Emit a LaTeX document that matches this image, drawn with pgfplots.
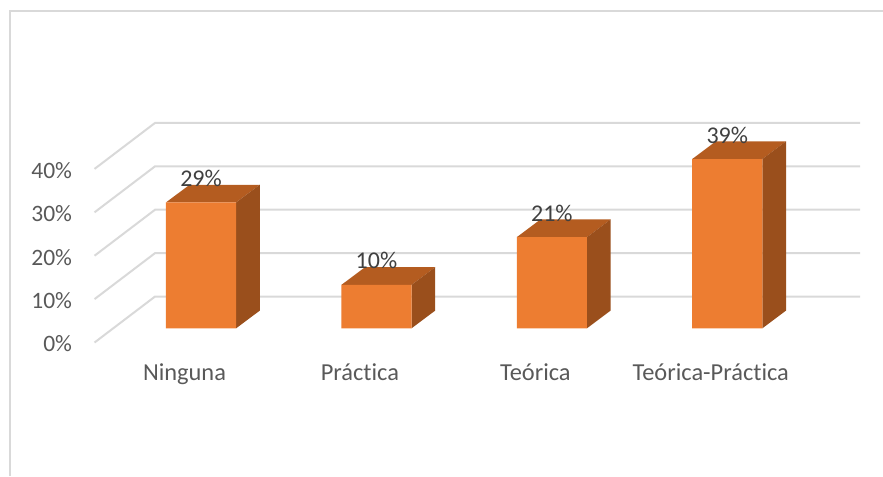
\documentclass[border=0pt]{standalone}
\usepackage{pgfplots}
\pgfplotsset{compat=1.18}
\usepackage{fontspec}
\setmainfont[Ligatures=NoCommon]{Carlito}

\definecolor{front}{HTML}{ED7D31}
\definecolor{sidef}{HTML}{9A4F1C}
\definecolor{topf}{HTML}{B45C20}
\definecolor{gridc}{HTML}{D9D9D9}
\definecolor{lab}{HTML}{595959}
\definecolor{val}{HTML}{404040}

% depth of a bar: dx 0.135, dy 4.08 / half width 0.2
\pgfplotstableread{
x y
0 29
1 10
2 21
3 39
}\shares

\begin{document}
\begin{tikzpicture}
\begin{axis}[
    scale only axis, width=883bp, height=476bp,
    xmin=-1.146, xmax=3.888, ymin=-34.03, ymax=75.65,
    axis line style={draw=none}, tick style={draw=none},
    xtick={0,1,2,3}, xticklabels={Ninguna,Práctica,Teórica,Teórica-Práctica},
    ytick={-3.27,6.73,16.73,26.73,36.73}, yticklabels={0\%,10\%,20\%,30\%,40\%},
    x tick label style={font=\fontsize{24.4bp}{28bp}\selectfont, text=lab, anchor=base, yshift=96bp, xshift=-16.5bp},
    y tick label style={font=\fontsize{23.5bp}{28bp}\selectfont, text=lab, anchor=east, xshift=75.5bp, yshift=-1.5bp},
]
% frame
\addplot[gridc, line width=2.4bp] coordinates {(-1.088,-34.03) (-1.088,73.05) (3.888,73.05)};
% back wall lines and diagonals
\addplot[gridc, line width=2bp] coordinates {(-0.607,-3.27) (-0.262,7.33) (3.757,7.33)};
\addplot[gridc, line width=2bp] coordinates {(-0.607,6.73) (-0.262,17.33) (3.757,17.33)};
\addplot[gridc, line width=2bp] coordinates {(-0.607,16.73) (-0.262,27.33) (3.757,27.33)};
\addplot[gridc, line width=2bp] coordinates {(-0.607,26.73) (-0.262,37.33) (3.757,37.33)};
\addplot[gridc, line width=2bp] coordinates {(-0.607,36.73) (-0.262,47.33) (3.757,47.33)};
% value labels, behind the bars
\addplot[only marks, mark=none, nodes near coords={\pgfplotspointmeta\%},
    point meta=explicit symbolic,
    nodes near coords style={font=\fontsize{24bp}{28bp}\selectfont, text=val, anchor=base, yshift=16bp}]
    table[x=x, y=y, meta=y] {\shares};
% top faces
\addplot[fill=topf, draw=none] coordinates {(-0.2,29) (-0.065,33.08) (0.335,33.08) (0.2,29)} --cycle;
\addplot[fill=topf, draw=none] coordinates {(0.8,10) (0.935,14.08) (1.335,14.08) (1.2,10)} --cycle;
\addplot[fill=topf, draw=none] coordinates {(1.8,21) (1.935,25.08) (2.335,25.08) (2.2,21)} --cycle;
\addplot[fill=topf, draw=none] coordinates {(2.8,39) (2.935,43.08) (3.335,43.08) (3.2,39)} --cycle;
% side faces
\addplot[fill=sidef, draw=none] coordinates {(0.2,0) (0.335,4.08) (0.335,33.08) (0.2,29)} --cycle;
\addplot[fill=sidef, draw=none] coordinates {(1.2,0) (1.335,4.08) (1.335,14.08) (1.2,10)} --cycle;
\addplot[fill=sidef, draw=none] coordinates {(2.2,0) (2.335,4.08) (2.335,25.08) (2.2,21)} --cycle;
\addplot[fill=sidef, draw=none] coordinates {(3.2,0) (3.335,4.08) (3.335,43.08) (3.2,39)} --cycle;
% front faces
\addplot[ybar, bar width=0.4, bar shift=0, fill=front, draw=none] table[x=x, y=y] {\shares};
\end{axis}
\end{tikzpicture}
\end{document}
